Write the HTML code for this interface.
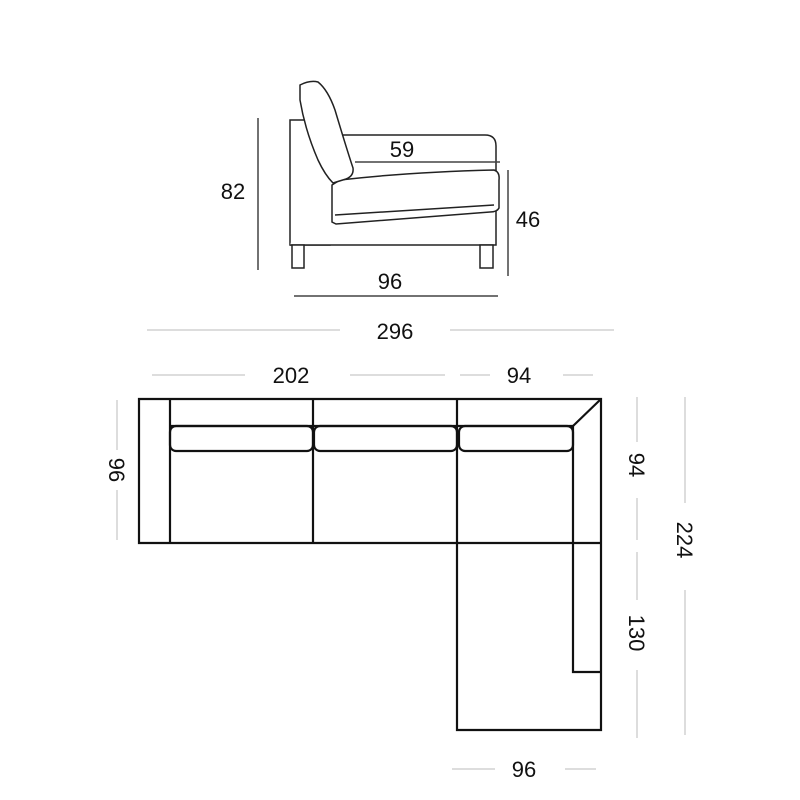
<!DOCTYPE html>
<html><head><style>body{margin:0;background:#fff}svg{display:block}</style></head><body>
<svg width="800" height="800" viewBox="0 0 800 800" xmlns="http://www.w3.org/2000/svg" font-family="Liberation Sans, sans-serif" font-size="22" fill="none">
<g stroke="#222" stroke-width="1.5" fill="#fff">
<path d="M290 245 L290 120 L330 120 L330 245 Z"/>
<path d="M330 135 L485 135 Q496 135 496 146 L496 245 L290 245"/>
<rect x="292" y="245" width="12" height="23"/>
<rect x="480" y="245" width="13" height="23"/>
<path d="M332 185 L340 180 Q410 172 494 170 Q500 172 499 180 L499 208 Q497 212 490 212 L336 224 L332 222 Z"/>
<path d="M335 215 L494 205"/>
<path d="M300 85 Q310 80 318 82 Q328 90 335 110 Q347 150 353 168 Q354 176 346 179 L333 183 Q325 175 318 160 Q305 130 300 100 Z"/>
</g>
<g stroke="#bbb" stroke-width="1">
<line x1="258" y1="118" x2="258" y2="270" stroke="#444" stroke-width="1.5"/>
<line x1="508" y1="170" x2="508" y2="276" stroke="#444" stroke-width="1.5"/>
<line x1="294" y1="296" x2="498" y2="296" stroke="#444" stroke-width="1.5"/>
<line x1="355" y1="162" x2="500" y2="162" stroke="#444" stroke-width="1.5"/>
<line x1="147" y1="330" x2="340" y2="330"/><line x1="450" y1="330" x2="614" y2="330"/>
<line x1="152" y1="375" x2="245" y2="375"/><line x1="350" y1="375" x2="445" y2="375"/>
<line x1="460" y1="375" x2="490" y2="375"/><line x1="563" y1="375" x2="593" y2="375"/>
<line x1="117" y1="400" x2="117" y2="450"/><line x1="117" y1="490" x2="117" y2="540"/>
<line x1="637" y1="397" x2="637" y2="442"/><line x1="637" y1="498" x2="637" y2="540"/>
<line x1="637" y1="552" x2="637" y2="600"/><line x1="637" y1="670" x2="637" y2="738"/>
<line x1="685" y1="397" x2="685" y2="503"/><line x1="685" y1="590" x2="685" y2="735"/>
<line x1="452" y1="769" x2="495" y2="769"/><line x1="565" y1="769" x2="596" y2="769"/>
</g>
<g stroke="#111" stroke-width="2.2" fill="none">
<path d="M139 399 H601 V730 H457 V543 H139 Z"/>
<line x1="170" y1="399" x2="170" y2="543"/>
<line x1="313" y1="399" x2="313" y2="543"/>
<line x1="457" y1="399" x2="457" y2="543"/>
<line x1="457" y1="543" x2="601" y2="543"/>
<line x1="170" y1="426" x2="573" y2="426"/>
<rect x="170" y="426" width="143" height="25" rx="6"/>
<rect x="314" y="426" width="143" height="25" rx="6"/>
<rect x="459" y="426" width="114" height="25" rx="6"/>
<line x1="573" y1="426" x2="601" y2="399"/>
<path d="M573 426 V672 H601"/>
</g>
<g fill="#111" stroke="none" text-anchor="middle">
<text x="402" y="157">59</text>
<text x="233" y="199">82</text>
<text x="528" y="227">46</text>
<text x="390" y="289">96</text>
<text x="395" y="339">296</text>
<text x="291" y="383">202</text>
<text x="519" y="383">94</text>
<text x="524" y="777">96</text>
<text transform="translate(109,470) rotate(90)">96</text>
<text transform="translate(629,465) rotate(90)">94</text>
<text transform="translate(629,633) rotate(90)">130</text>
<text transform="translate(677,540) rotate(90)">224</text>
</g>
</svg>
</body></html>
